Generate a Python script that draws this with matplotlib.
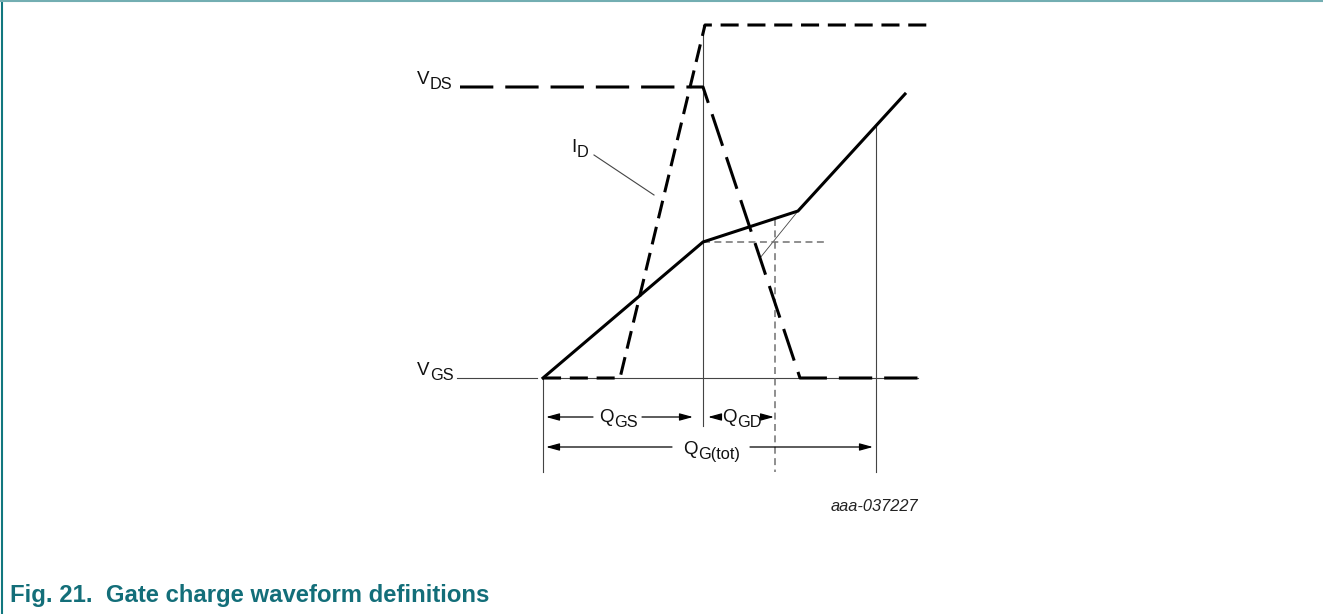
import numpy as np
import matplotlib

matplotlib.use("Agg")
import matplotlib.pyplot as plt
from matplotlib.lines import Line2D

plt.rcParams["font.family"] = ["Liberation Sans", "DejaVu Sans"]
plt.rcParams["lines.scale_dashes"] = False

W, H = 1323, 614

# waveform corner points (x = gate charge, y = level, drawing px with y down)
vgs_x = [543, 703, 798, 905]
vgs_y = [378, 242, 211, 94]
vds_x = [460, 703, 800, 918]
vds_y = [87, 87, 378, 378]
id_x = [543, 620, 705, 928]
id_y = [378, 378, 25, 25]

# construction line for the end of the plateau
tan_x = [798, 760]
tan_y = [211, 258]

# charge boundaries and levels
q_start, q_gs, q_gd, q_tot = 543, 703, 775, 876
base_y = 378
plateau_y = 242
plateau_end = 825
dim_bottom = 472
row1_y, row2_y = 417, 447

INK = "#000000"
THIN = "#444444"
GREY = "#707070"
TEAL = "#136e79"


def sub_label(ax, x, y, main, sub, size=13.5, sub_size=11.8):
    """Main text with a lowered subscript, left edge at x, baseline at y."""
    t = ax.text(x, y, main, fontsize=size, ha="left", va="baseline", color="#111111")
    ax.annotate(sub, xy=(1, 0), xycoords=t, xytext=(0.3, -2.6),
                textcoords="offset points", fontsize=sub_size,
                ha="left", va="bottom", color="#111111")
    return t


def dim_arrow(ax, x_from, x_to, y):
    ax.annotate("", xy=(x_to, y), xytext=(x_from, y),
                arrowprops=dict(arrowstyle="-|>,head_length=0.8,head_width=0.22",
                                color=INK, lw=0.9, shrinkA=0, shrinkB=0,
                                mutation_scale=10))


fig = plt.figure(figsize=(W / 100, H / 100), dpi=100)
ax = fig.add_axes([0, 0, 1, 1])
ax.set_xlim(0, W)
ax.set_ylim(H, 0)
ax.axis("off")

# thin construction / dimension lines
thin = dict(color=THIN, lw=0.8, zorder=1)
ax.plot([q_start, 918], [base_y, base_y], **thin)
ax.plot([457, 537], [base_y, base_y], **thin)                     # V_GS leader
ax.plot([594, 654], [155, 195], **thin)                           # I_D leader
ax.plot([q_start, q_start], [base_y, dim_bottom], **thin)
ax.plot([q_gs, q_gs], [min(id_y), 426], **thin)
ax.plot([q_tot, q_tot], [np.interp(q_tot, vgs_x, vgs_y), dim_bottom], **thin)
ax.plot(tan_x, tan_y, color=THIN, lw=0.6, zorder=1)

grey = dict(color=GREY, lw=1.1, dashes=(5, 3.2), zorder=1)
ax.plot([q_gs, plateau_end], [plateau_y, plateau_y], **grey)
ax.plot([q_gd, q_gd], [np.interp(q_gd, vgs_x, vgs_y), dim_bottom], **grey)

# waveforms
ax.plot(vgs_x, vgs_y, color=INK, lw=2.2, solid_joinstyle="miter", zorder=3)
ax.plot(vds_x, vds_y, color=INK, lw=2.2, dashes=(24, 8.6), zorder=3)
ax.plot(id_x, id_y, color=INK, lw=2.2, dashes=(13, 6.3), zorder=3)

# charge dimension arrows (split around the labels)
dim_arrow(ax, 593, q_start + 3, row1_y)
dim_arrow(ax, 642, q_gs - 10, row1_y)
dim_arrow(ax, 719, q_gs + 5, row1_y)
dim_arrow(ax, 765, q_gd - 1, row1_y)
dim_arrow(ax, 672, q_start + 3, row2_y)
dim_arrow(ax, 750, q_tot - 3, row2_y)

# labels
sub_label(ax, 417, 84, "V", "DS")
sub_label(ax, 417, 375, "V", "GS")
sub_label(ax, 571, 152, "I", "D")
sub_label(ax, 599, 422, "Q", "GS")
sub_label(ax, 722, 422, "Q", "GD")
sub_label(ax, 683, 454, "Q", "G(tot)")

ax.text(918, 511, "aaa-037227", fontsize=11.8, style="italic",
        ha="right", va="baseline", color="#222222")

fig.text(10 / W, 1 - 602 / H, "Fig. 21.  Gate charge waveform definitions",
         fontsize=17.2, fontweight="bold", color=TEAL, ha="left", va="baseline")

# frame lines of the figure box
fig.add_artist(Line2D([2 / W, 2 / W], [0, 1], color="#11777f", lw=1.5,
                      transform=fig.transFigure))
fig.add_artist(Line2D([0, 1], [1 - 1 / H, 1 - 1 / H], color="#73aeb2", lw=1.5,
                      transform=fig.transFigure))

fig.savefig("out.png", dpi=100)
